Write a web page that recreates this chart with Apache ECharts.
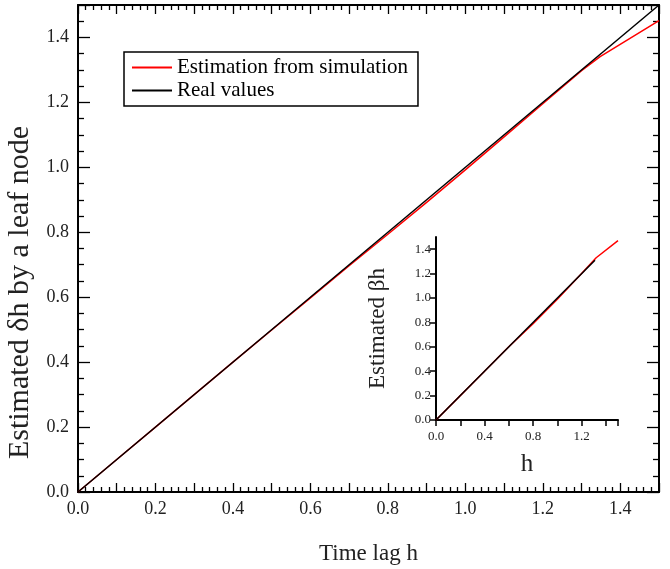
<!DOCTYPE html>
<html>
<head>
<meta charset="utf-8">
<script src="https://cdn.jsdelivr.net/npm/echarts@6/dist/echarts.min.js"></script>
<style>html,body{margin:0;padding:0;background:#fff}#c{width:670px;height:569px}</style>
</head>
<body>
<div id="c"></div>
<script>
// ---- data ----
const mainHx      = [0, 0.1, 0.2, 0.3, 0.4, 0.5, 0.6, 0.7, 0.8, 0.9, 1.0, 1.1, 1.2, 1.3, 1.348, 1.5];
const mainEstY    = [0, 0.1, 0.2, 0.3, 0.4, 0.499, 0.598, 0.697, 0.794, 0.892, 0.992, 1.094, 1.196, 1.298, 1.341, 1.452];
const mainRealX   = [0, 1.5];
const mainRealY   = [0, 1.5];
const insetHx     = [0, 0.2, 0.4, 0.6, 0.8, 1.0, 1.2, 1.32, 1.5];
const insetEstY   = [0, 0.2, 0.4, 0.6, 0.79, 0.99, 1.2, 1.33, 1.47];
const insetRealX  = [0, 1.31];
const insetRealY  = [0, 1.31];
const legendNames = ['Estimation from simulation', 'Real values'];
const mainTitleX  = 'Time lag h';
const mainTitleY  = 'Estimated δh by a leaf node';
const insetTitleX = 'h';
const insetTitleY = 'Estimated βh';

const zip = (a, b) => a.map((v, i) => [v, b[i]]);
const F = 'Liberation Serif';
const evenLabel = v => (Math.round(v * 10) % 2 === 0 ? v.toFixed(1) : '');
const every4 = v => (Math.round(v * 10) % 4 === 0 ? v.toFixed(1) : '');

const axLine = {show: true, onZero: false, lineStyle: {color: '#000', width: 2}};

const option = {
  animation: false,
  backgroundColor: '#fff',
  legend: {
    data: legendNames,
    orient: 'vertical',
    left: 124, top: 52,
    itemWidth: 40, itemHeight: 2, itemGap: 2,
    icon: 'rect',
    padding: [5, 10, 5, 8],
    borderColor: '#000', borderWidth: 1.5,
    textStyle: {fontFamily: F, fontSize: 21, color: '#000'}
  },
  grid: [
    {left: 78, top: 5, width: 581, height: 487, containLabel: false, outerBoundsMode: 'none'},
    {left: 436, top: 237, width: 182, height: 183, containLabel: false, outerBoundsMode: 'none'}
  ],
  xAxis: [
    {type: 'value', gridIndex: 0, min: 0, max: 1.5, interval: 0.1,
     axisLine: axLine,
     axisTick: {show: true, inside: true, length: 9, lineStyle: {color: '#000', width: 1.3}},
     minorTick: {show: true, splitNumber: 5, length: 5, lineStyle: {color: '#000', width: 1.3}},
     splitLine: {show: false},
     axisLabel: {formatter: evenLabel, fontFamily: F, fontSize: 18, color: '#222', margin: 8, showMaxLabel: false},
     name: mainTitleX, nameLocation: 'middle', nameGap: 50,
     nameTextStyle: {fontFamily: F, fontSize: 23, color: '#222'}},
    {type: 'value', gridIndex: 0, position: 'top', min: 0, max: 1.5, interval: 0.1,
     axisLine: axLine,
     axisTick: {show: true, inside: true, length: 9, lineStyle: {color: '#000', width: 1.3}},
     minorTick: {show: true, splitNumber: 5, length: 5, lineStyle: {color: '#000', width: 1.3}},
     splitLine: {show: false}, axisLabel: {show: false}},
    {type: 'value', gridIndex: 1, min: 0, max: 1.5, interval: 0.2,
     axisLine: axLine,
     axisTick: {show: true, inside: false, length: 6, lineStyle: {color: '#000', width: 1.5}},
     splitLine: {show: false},
     axisLabel: {formatter: every4, fontFamily: F, fontSize: 13, color: '#222', margin: 10},
     name: insetTitleX, nameLocation: 'middle', nameGap: 32,
     nameTextStyle: {fontFamily: F, fontSize: 25, color: '#222'}}
  ],
  yAxis: [
    {type: 'value', gridIndex: 0, min: 0, max: 1.5, interval: 0.2,
     axisLine: axLine,
     axisTick: {show: true, inside: true, length: 12, lineStyle: {color: '#000', width: 1.3}},
     minorTick: {show: true, splitNumber: 4, length: 6, lineStyle: {color: '#000', width: 1.3}},
     splitLine: {show: false},
     axisLabel: {formatter: v => v.toFixed(1), fontFamily: F, fontSize: 18, color: '#222', margin: 9, showMaxLabel: false},
     name: mainTitleY, nameLocation: 'middle', nameGap: 36,
     nameTextStyle: {fontFamily: F, fontSize: 30, color: '#222', padding: [0, 88, 0, 0]}},
    {type: 'value', gridIndex: 0, position: 'right', min: 0, max: 1.5, interval: 0.2,
     axisLine: axLine,
     axisTick: {show: true, inside: true, length: 12, lineStyle: {color: '#000', width: 1.3}},
     minorTick: {show: true, splitNumber: 4, length: 6, lineStyle: {color: '#000', width: 1.3}},
     splitLine: {show: false}, axisLabel: {show: false}},
    {type: 'value', gridIndex: 1, min: 0, max: 1.5, interval: 0.2,
     axisLine: axLine,
     axisTick: {show: true, inside: false, length: 6, lineStyle: {color: '#000', width: 1.5}},
     splitLine: {show: false},
     axisLabel: {formatter: v => v.toFixed(1), fontFamily: F, fontSize: 13, color: '#222', margin: 5, showMaxLabel: false},
     name: insetTitleY, nameLocation: 'middle', nameGap: 47,
     nameTextStyle: {fontFamily: F, fontSize: 23, color: '#222'}}
  ],
  series: [
    {name: legendNames[0], type: 'line', xAxisIndex: 0, yAxisIndex: 0, data: zip(mainHx, mainEstY),
     showSymbol: false, symbol: 'none', lineStyle: {color: '#ff0000', width: 1.5}, itemStyle: {color: '#ff0000'}, z: 2},
    {name: legendNames[1], type: 'line', xAxisIndex: 0, yAxisIndex: 0, data: zip(mainRealX, mainRealY),
     showSymbol: false, symbol: 'none', lineStyle: {color: '#000', width: 1.5}, itemStyle: {color: '#000'}, z: 3},
    {name: 'inset-est', type: 'line', xAxisIndex: 2, yAxisIndex: 2, data: zip(insetHx, insetEstY),
     showSymbol: false, symbol: 'none', lineStyle: {color: '#ff0000', width: 1.5}, z: 2},
    {name: 'inset-real', type: 'line', xAxisIndex: 2, yAxisIndex: 2, data: zip(insetRealX, insetRealY),
     showSymbol: false, symbol: 'none', lineStyle: {color: '#000', width: 1.5}, z: 3}
  ]
};
const chart = echarts.init(document.getElementById('c'), null, {renderer: 'canvas'});
chart.setOption(option);
</script>
</body>
</html>
